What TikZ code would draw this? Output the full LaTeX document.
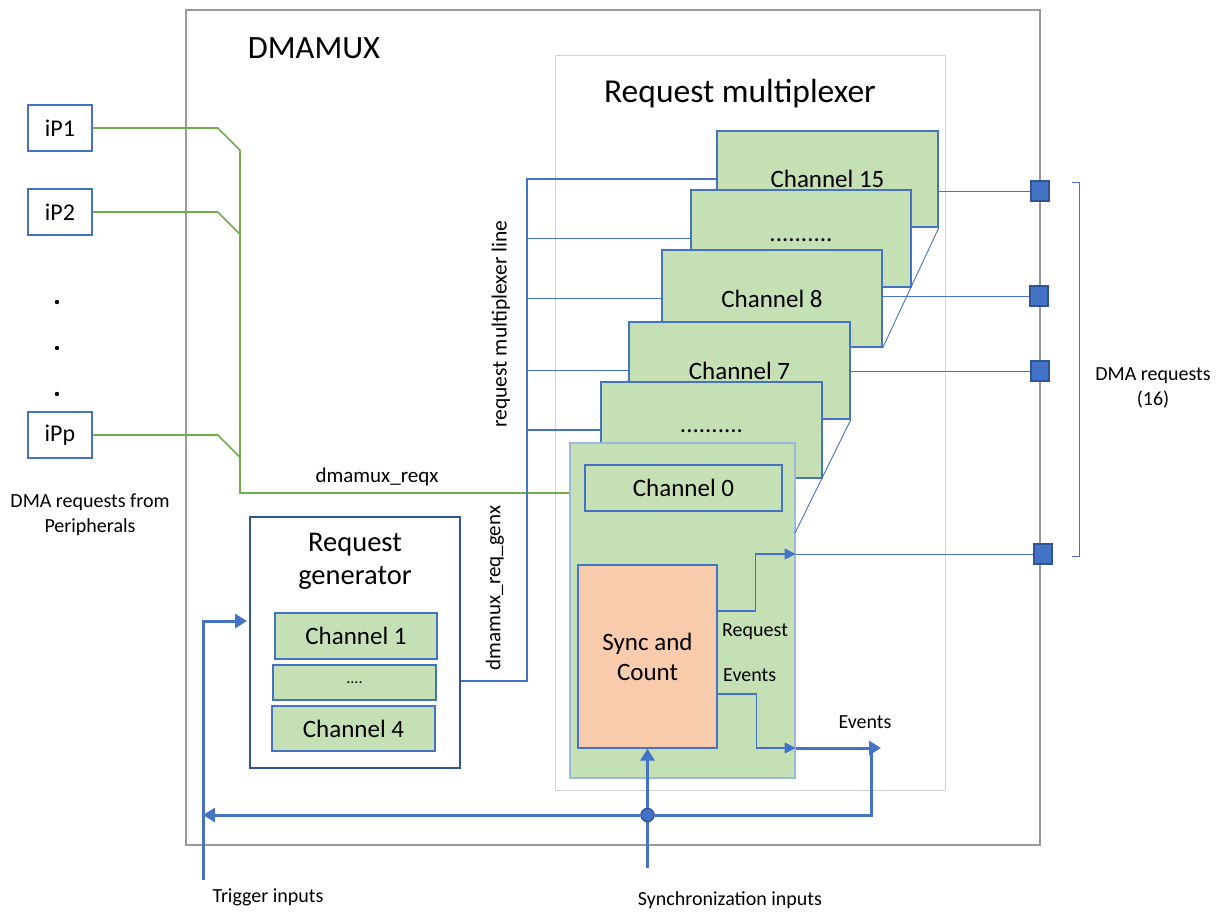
\documentclass[tikz,border=0pt]{standalone}
\usepackage{fontspec}
\setmainfont{Carlito}
\usetikzlibrary{arrows.meta,calc,positioning}
\definecolor{dmaBlue}{HTML}{4472C4}
\definecolor{dmaDark}{HTML}{2F5597}
\definecolor{chFill}{HTML}{C5E0B4}
\definecolor{syncFill}{HTML}{F8CBAD}
\definecolor{reqGreen}{HTML}{70AD47}
\definecolor{frameGray}{HTML}{999999}
\definecolor{ch0Line}{HTML}{9DB9D9}
\newcommand\fsize[2]{\fontsize{#1}{#2}\selectfont}

\begin{document}
\begin{tikzpicture}[x=1pt,y=-1pt,
  frame/.style={draw=frameGray,line width=1.2pt,inner sep=0pt},
  ipbox/.style={draw=dmaBlue,fill=white,line width=1.4pt,minimum width=64pt,
    minimum height=46pt,inner sep=0pt,font=\fsize{24}{29}},
  chan/.style={draw=dmaBlue,fill=chFill,line width=1.5pt,inner sep=0pt,font=\fsize{25}{30}},
  port/.style={draw=dmaDark,fill=dmaBlue,line width=1.5pt,minimum width=18pt,
    minimum height=20pt,inner sep=0pt},
  lbl/.style={font=\fsize{20}{25},align=center,inner sep=0pt},
  wire/.style={dmaBlue,line width=1.1pt},
  arr/.style={wire,-{Triangle[length=11pt,width=11pt]}},
  bus/.style={dmaBlue,line width=3pt},
  busarr/.style={bus,-{Triangle[length=12pt,width=14pt]}},
  req/.style={reqGreen,line width=1.6pt}
]
\useasboundingbox (0,0) rectangle (1230,911);

% frames
\node[frame,minimum width=854pt,minimum height=835pt] (dmamux) at (613,427.5) {};
\node[frame,draw=frameGray!45,line width=1pt,minimum width=390pt,minimum height=735pt] (mux) at (750,422.5) {};
\node[font=\fsize{32.5}{38}] (dmamuxlbl) at (314,48) {DMAMUX};
\node[font=\fsize{33.5}{40}] (muxlbl) at (740,94) {Request multiplexer};

% peripherals
\node[ipbox] (ip1) at (60,128) {iP1};
\node[ipbox] (ip2) at (60,212) {iP2};
\node[ipbox] (ipp) at (60,435) {iPp};
\foreach \y in {302,348,394} \fill (57,\y) circle (2.2pt);
\node[lbl] (periph) at (90,515) {DMA requests from\\Peripherals};

% request generator
\node[draw=dmaDark,line width=2pt,fill=white,minimum width=210pt,minimum height=251pt] (rgen) at (355,642.5) {};
\node[font=\fsize{28.5}{33},align=center,inner sep=0pt] (rgenlbl) at (355,561) {Request\\generator};
\node[chan,line width=1.3pt,minimum width=162pt,minimum height=46pt] (gch1) at (356,636) {Channel 1};
\node[chan,line width=1.3pt,minimum width=163pt,minimum height=35pt,font=\fsize{16}{20}] (gchd) at (354.5,682.5) {....};
\node[chan,line width=1.3pt,minimum width=163pt,minimum height=45pt] (gch4) at (353.5,728.5) {Channel 4};

% channel stack
\node[chan,minimum width=221pt,minimum height=96pt] (ch15) at (827.5,179) {Channel 15};
\node[chan,minimum width=220pt,minimum height=97pt] (chda) at (801,238.5) {\raisebox{-6pt}{..........}};
\node[chan,minimum width=220pt,minimum height=97pt] (ch8) at (772,298.5) {Channel 8};
\node[chan,minimum width=221pt,minimum height=97pt] (ch7) at (739.5,370.5) {Channel 7};
\node[chan,minimum width=221pt,minimum height=96pt] (chdb) at (711.5,430) {\raisebox{-5pt}{..........}};
\node[chan,draw=ch0Line,line width=1.2pt,minimum width=225pt,minimum height=335pt] (ch0) at (682.5,610.5) {};
\node[chan,line width=1.3pt,minimum width=197pt,minimum height=46pt] (ch0in) at (683.5,488) {Channel 0};
\node[chan,fill=syncFill,line width=1.3pt,minimum width=139pt,minimum height=183pt,align=center] (sync) at (647.5,656.5) {Sync and\\Count};

\draw[wire,line width=0.9pt] (ch15.south east) -- (ch8.south east);
\coordinate (ch0side) at (795,533);
\draw[wire,line width=0.9pt] (ch7.south east) -- (ch0side);

% dmamux_reqx
\coordinate (bustop) at (240,151);
\coordinate (busbot) at (240,493);
\foreach \p in {ip1,ip2,ipp} \draw[req] (\p.east) -- ++(125,0) -- ++(23,23);
\draw[req,line width=1.2pt] (bustop) -- (busbot) -- (ch0.west |- busbot);
\node[lbl,font=\fsize{21}{25}] (reqxlbl) at (377,477) {dmamux\_reqx};

% request multiplexer line
\coordinate (muxtop) at (527,179);
\coordinate (muxbot) at (527,681);
\draw[wire] (rgen.east |- muxbot) -- (muxbot) -- (muxtop) -- (ch15.west);
\foreach \c in {chda,ch8,ch7,chdb} \draw[wire] (muxtop |- \c.west) -- (\c.west);
\node[lbl,font=\fsize{21.5}{25},rotate=90] (muxlinelbl) at (501,324) {request multiplexer line};
\node[lbl,font=\fsize{21}{25},rotate=90] (genlbl) at (495,588) {dmamux\_req\_genx};

% outputs
\node[port] (p15) at (1040,191) {};
\node[port] (p8) at (1039,296) {};
\node[port] (p7) at (1040,371) {};
\node[port] (p0) at (1043,554) {};
\draw[wire,line width=1pt] (ch15.east |- p15) -- (p15);
\draw[wire,line width=1pt] (ch8.east |- p8) -- (p8);
\draw[wire,line width=1pt] (ch7.east |- p7) -- (p7);
\draw[wire,line width=1pt] (ch0.east |- p0) -- (p0);
\coordinate (brtop) at (1079,182);
\coordinate (brbot) at (1079,556);
\draw[wire,line width=1pt] ([xshift=-7pt]brtop) -- (brtop) -- (brbot) -- ([xshift=-7pt]brbot);
\node[lbl] (dmareq) at (1153,388) {DMA requests\\(16)};

% sync and count outputs
\coordinate (evout) at (881,748);
\coordinate (evtap) at (871,748);
\draw[arr] ([yshift=45.5pt]sync.east) -- ++(38,0) |- (ch0.east |- p0);
\draw[arr] ([yshift=-37.5pt]sync.east) -- ++(39,0) |- (ch0.east |- evout);
\node[lbl,anchor=west] (reqlbl) at (722,632) {Request};
\node[lbl,anchor=west] (evlbl) at (723,675) {Events};
\draw[busarr] (ch0.east |- evout) -- (evout);
\node[lbl] (evoutlbl) at (865,722) {Events};

% trigger and synchronization inputs
\coordinate (trig) at (203,880);
\coordinate (trigin) at (247,621);
\coordinate (syncin) at (647.5,868);
\draw[busarr] (trig) |- (trigin);
\draw[busarr] (syncin) -- (sync.south);
\node[circle,draw=dmaDark,fill=dmaBlue,line width=1.2pt,minimum size=13pt,inner sep=0pt] (junc) at (647.5,815) {};
\draw[busarr] (evtap) -- (evtap |- junc) -- (junc) -- (trig |- junc);
\node[circle,draw=dmaDark,fill=dmaBlue,line width=1.2pt,minimum size=13pt,inner sep=0pt] at (junc) {};
\node[lbl] (triglbl) at (268,897) {Trigger inputs};
\node[lbl] (synclbl) at (730,900) {Synchronization inputs};
\end{tikzpicture}
\end{document}
